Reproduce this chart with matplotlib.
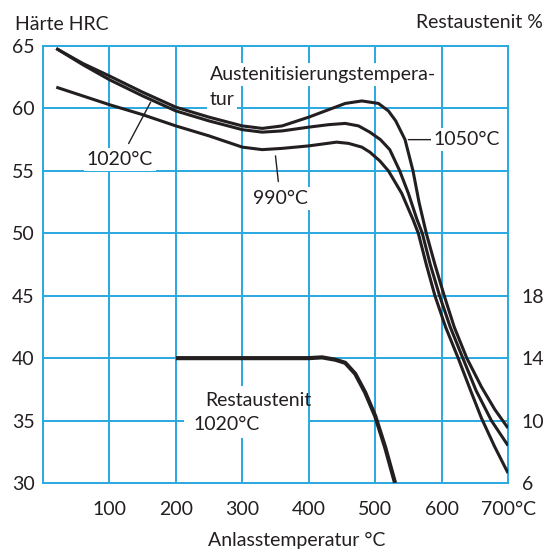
import matplotlib
matplotlib.use('Agg')
import matplotlib.pyplot as plt
from matplotlib.patches import Rectangle

plt.rcParams['font.family'] = ['Lato', 'DejaVu Sans']

# Data
temp_1050 = [20, 60, 100, 150, 200, 250, 300, 330, 360, 400, 430, 455, 480, 505, 520, 531, 545, 557, 566, 577, 590, 604, 619, 638, 660, 680, 700]
hrc_1050 = [64.8, 63.6, 62.6, 61.3, 60.1, 59.3, 58.6, 58.4, 58.6, 59.3, 59.9, 60.4, 60.6, 60.4, 59.8, 59.0, 57.5, 55.0, 52.5, 50.0, 47.5, 45.0, 42.5, 40.0, 37.7, 35.9, 34.4]

temp_1020 = [20, 60, 100, 150, 200, 250, 300, 330, 360, 400, 430, 455, 475, 492, 508, 522, 537, 550, 563, 571, 583, 597, 613, 632, 652, 675, 700]
hrc_1020 = [64.8, 63.5, 62.3, 61.0, 59.8, 59.0, 58.3, 58.1, 58.2, 58.5, 58.7, 58.8, 58.6, 58.1, 57.5, 56.7, 55.0, 53.2, 51.1, 50.0, 47.5, 45.0, 42.5, 40.0, 37.4, 35.0, 33.0]

temp_990 = [20, 60, 100, 150, 200, 250, 300, 330, 360, 400, 442, 460, 480, 492, 507, 520, 540, 557, 565, 577, 590, 606, 625, 643, 660, 680, 700]
hrc_990 = [61.7, 61.0, 60.3, 59.5, 58.6, 57.8, 56.9, 56.7, 56.8, 57.0, 57.3, 57.2, 56.9, 56.5, 55.8, 55.0, 53.2, 51.1, 50.0, 47.5, 45.0, 42.5, 40.0, 37.5, 35.2, 32.9, 30.8]

# Restaustenit 1020 C, in %
temp_ra = [200, 300, 400, 420, 440, 455, 470, 485, 500, 515, 530]
ra_1020 = [14.0, 14.0, 14.0, 14.05, 13.9, 13.7, 13.0, 11.8, 10.3, 8.3, 6.0]

x_ticks = [100, 200, 300, 400, 500, 600, 700]
x_labels = ['100', '200', '300', '400', '500', '600', '700°C']
hrc_ticks = [30, 35, 40, 45, 50, 55, 60, 65]
ra_ticks = [6, 10, 14, 18]

blue = '#2aa8e0'
dark = '#231f20'
fs = 14

fig = plt.figure(figsize=(5.52, 5.51), dpi=100)
ax = fig.add_axes([43 / 552, 68 / 551, 465 / 552, 437 / 551])
ax.set_xlim(0, 700)
ax.set_ylim(30, 65)

# grid
for t in x_ticks[:-1]:
    ax.axvline(t, color=blue, lw=1.4, zorder=1)
for h in hrc_ticks[1:-1]:
    ax.axhline(h, color=blue, lw=1.4, zorder=1)
for s in ax.spines.values():
    s.set_color(blue)
    s.set_linewidth(1.4)

for t, h in [(temp_1050, hrc_1050), (temp_1020, hrc_1020), (temp_990, hrc_990)]:
    ax.plot(t, h, color=dark, lw=2.2, zorder=4, solid_capstyle='butt', solid_joinstyle='round')

ax.set_xticks(x_ticks)
ax.set_xticklabels(x_labels)
ax.set_yticks(hrc_ticks)
ax.tick_params(length=0, labelsize=fs, colors=dark)
ax.tick_params(axis='x', pad=13)
ax.tick_params(axis='y', pad=6)

ax2 = ax.twinx()
ax2.set_ylim(6, 34)
ax2.set_yticks(ra_ticks)
ax2.tick_params(length=0, labelsize=fs, colors=dark, pad=10)
for s in ax2.spines.values():
    s.set_visible(False)
ax2.plot(temp_ra, ra_1020, color=dark, lw=3.0, zorder=4, solid_capstyle='butt', solid_joinstyle='round')

box = dict(facecolor='white', edgecolor='none', pad=2)

ax.text(251, 62.7, 'Austenitisierungstempera-', fontsize=fs, color=dark,
        ha='left', va='center', bbox=box, zorder=3)
ax.text(251, 60.7, 'tur', fontsize=fs, color=dark, ha='left', va='center',
        bbox=box, zorder=3)

ax.annotate('1020°C', xy=(162, 60.5), xytext=(116, 55.9), fontsize=fs, color=dark,
            ha='center', va='center', bbox=box, zorder=3,
            arrowprops=dict(arrowstyle='-', color=dark, lw=1.0,
                            shrinkA=4, shrinkB=0))
ax.annotate('990°C', xy=(350, 56.2), xytext=(357, 52.8), fontsize=fs, color=dark,
            ha='center', va='center', bbox=box, zorder=3,
            arrowprops=dict(arrowstyle='-', color=dark, lw=1.0,
                            shrinkA=4, shrinkB=0))
ax.annotate('1050°C', xy=(550, 57.5), xytext=(588, 57.5), fontsize=fs, color=dark,
            ha='left', va='center', bbox=box, zorder=3,
            arrowprops=dict(arrowstyle='-', color=dark, lw=1.0,
                            shrinkA=0, shrinkB=0))

ax.add_patch(Rectangle((213, 33.6), 186, 4.2, facecolor='white', edgecolor='none', zorder=2))
ax.text(244, 36.6, 'Restaustenit', fontsize=fs, color=dark, ha='left', va='center', zorder=3)
ax.text(226, 34.7, '1020°C', fontsize=fs, color=dark, ha='left', va='center', zorder=3)

fig.text(15 / 552, 1 - 25 / 551, 'Härte HRC', fontsize=fs, color=dark, ha='left', va='center')
fig.text(543 / 552, 1 - 22 / 551, 'Restaustenit %', fontsize=fs, color=dark, ha='right', va='center')
fig.text(297 / 552, 1 - 540 / 551, 'Anlasstemperatur °C', fontsize=fs, color=dark, ha='center', va='center')

fig.savefig('out.png', dpi=100)
